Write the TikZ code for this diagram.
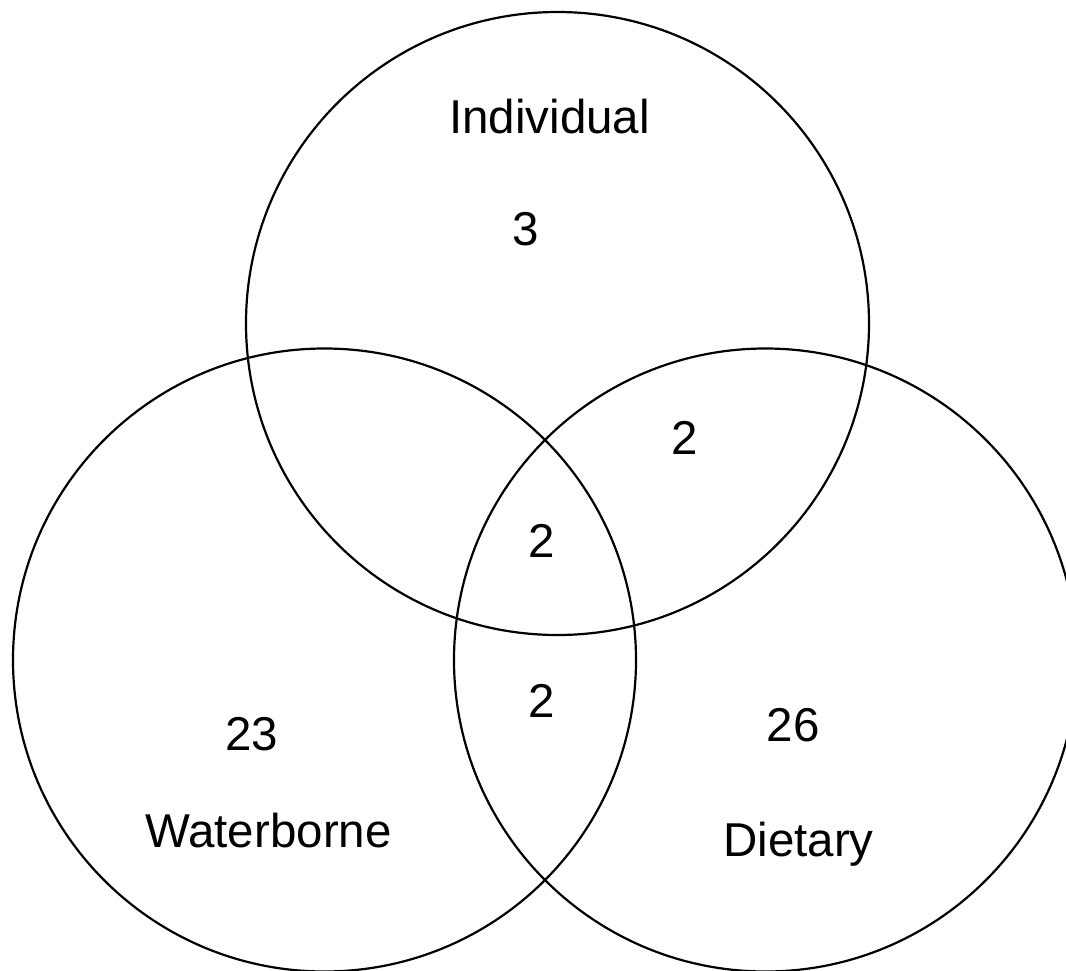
\documentclass[tikz,border=0pt]{standalone}
\usepackage{fontspec}
\setmainfont{Liberation Sans}
\begin{document}
\begin{tikzpicture}[x=1pt,y=-1pt,
  setcircle/.style={circle,draw=black,line width=2.2pt,minimum size=623pt,inner sep=0pt,outer sep=0pt},
  lbl/.style={anchor=base,inner sep=0pt,font=\fontsize{47.5}{57}\selectfont}]
\useasboundingbox (0,0) rectangle (1066,970);
\clip (0,0) rectangle (1066,970);
\node[setcircle] (top) at (557.5,323.5) {};
\node[setcircle] (left) at (324.5,660) {};
\node[setcircle] (right) at (765.5,660) {};
\node[lbl] (individual) at (549.5,133) {Individual};
\node[lbl] (n3) at (525.5,245) {3};
\node[lbl] (n2a) at (685,454) {2};
\node[lbl] (n2b) at (541.5,557) {2};
\node[lbl] (n2c) at (541.5,717) {2};
\node[lbl] (n23) at (251.5,750) {23};
\node[lbl] (waterborne) at (268.5,847) {Waterborne};
\node[lbl] (n26) at (793,741) {26};
\node[lbl] (dietary) at (798.5,856) {Dietary};
\end{tikzpicture}
\end{document}
